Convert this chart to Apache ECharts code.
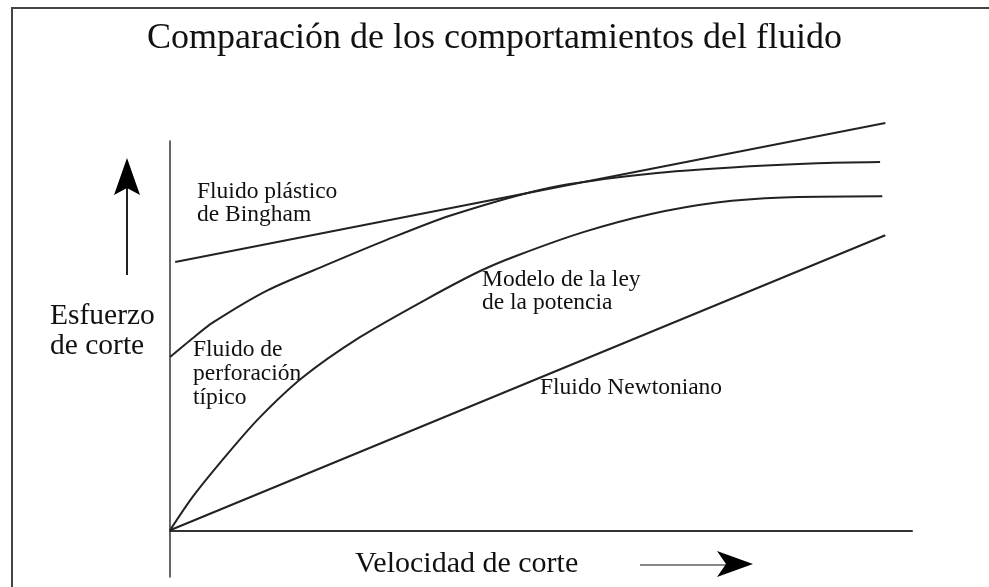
<!DOCTYPE html>
<html>
<head>
<meta charset="utf-8">
<script src="https://cdn.jsdelivr.net/npm/echarts@6/dist/echarts.min.js"></script>
<style>
  html, body { margin: 0; padding: 0; background: #fff; }
  #container { width: 989px; height: 587px; }
</style>
</head>
<body>
<div id="container"></div>
<script>
// curvas (unidades arbitrarias, 0-100)
var newtoniano = [[0, 0], [96.4, 75.8]];
var bingham = [[0.7, 68.9], [96.4, 104.6]];
var perforacion = [[0, 44.5], [3.1, 49.4], [5.8, 53.4], [13.2, 61.7], [21.0, 68.1], [29.2, 74.6],
    [37.7, 80.8], [51.2, 88.0], [64.7, 91.6], [78.2, 93.5], [87.2, 94.3], [95.7, 94.6]];
var potencia = [[0, 0], [3.1, 8.7], [7.7, 19.5], [12.1, 29.0], [17.9, 39.3], [25.6, 49.6],
    [34.6, 59.4], [41.8, 66.6], [46.8, 70.6], [55.7, 76.6], [64.7, 81.2], [73.7, 84.2],
    [82.6, 85.5], [96.0, 85.8]];

var serif = '"Liberation Serif", "Times New Roman", serif';
var chartDom = document.getElementById('container');
var myChart = echarts.init(chartDom);

function linea(name, data, smooth) {
    return {
        name: name,
        type: 'line',
        data: data,
        smooth: smooth ? 0.25 : false,
        symbol: 'none',
        clip: false,
        lineStyle: { color: '#222', width: 2 }
    };
}

function texto(x, y, str, size, lh) {
    return {
        type: 'text',
        left: x,
        top: y,
        style: { text: str, font: size + 'px ' + serif, fill: '#111', lineHeight: lh }
    };
}

var option = {
    animation: false,
    backgroundColor: '#fff',
    grid: { left: 170, right: 77, top: 141, bottom: 10 },
    xAxis: {
        type: 'value', min: 0, max: 100,
        axisLine: { show: true, onZero: true, lineStyle: { color: '#333', width: 2 } },
        axisTick: { show: false }, axisLabel: { show: false }, splitLine: { show: false }
    },
    yAxis: {
        type: 'value', min: -12, max: 100,
        axisLine: { show: true, lineStyle: { color: '#333', width: 1.5 } },
        axisTick: { show: false }, axisLabel: { show: false }, splitLine: { show: false }
    },
    series: [
        linea('Fluido Newtoniano', newtoniano, false),
        linea('Fluido plástico de Bingham', bingham, false),
        linea('Fluido de perforación típico', perforacion, true),
        linea('Modelo de la ley de la potencia', potencia, true)
    ],
    graphic: [
        { type: 'rect', shape: { x: 12, y: 8, width: 1000, height: 600 },
          style: { fill: 'none', stroke: '#444', lineWidth: 2 }, silent: true },
        { type: 'text', left: 'center', top: 20,
          style: { text: 'Comparación de los comportamientos del fluido', font: '36px ' + serif, fill: '#111', lineHeight: 38 } },
        texto(197, 180, 'Fluido plástico\nde Bingham', 23.5, 23),
        texto(482, 268, 'Modelo de la ley\nde la potencia', 23.5, 23),
        texto(193, 338, 'Fluido de\nperforación\ntípico', 23.5, 24),
        texto(540, 376, 'Fluido Newtoniano', 23.5, 23),
        texto(50, 301, 'Esfuerzo\nde corte', 29.5, 30),
        texto(355, 549, 'Velocidad de corte', 30, 30),
        // flecha vertical
        { type: 'line', shape: { x1: 127, y1: 275, x2: 127, y2: 188 }, style: { stroke: '#222', lineWidth: 2 } },
        { type: 'polygon', shape: { points: [[127, 158], [140, 195], [127, 188], [114, 195]] }, style: { fill: '#000' } },
        // flecha horizontal
        { type: 'line', shape: { x1: 640, y1: 565, x2: 726, y2: 565 }, style: { stroke: '#888', lineWidth: 2 } },
        { type: 'polygon', shape: { points: [[753, 564], [717, 577], [726, 564], [717, 551]] }, style: { fill: '#000' } }
    ]
};

option && myChart.setOption(option);
</script>
</body>
</html>
